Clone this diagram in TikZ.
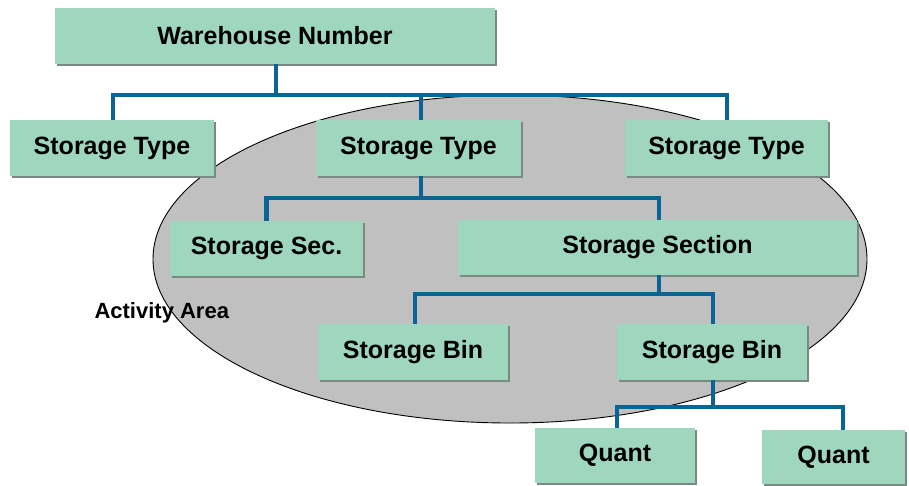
\documentclass[tikz,border=0pt]{standalone}
\usepackage{fontspec}
\setmainfont{Liberation Sans}
\definecolor{boxgreen}{HTML}{9FD6BE}
\definecolor{shadowgray}{HTML}{7A8A82}
\definecolor{connblue}{HTML}{0A6496}
\definecolor{areagray}{HTML}{C0C0C0}
\tikzset{
  box/.style={rectangle, fill=boxgreen, inner sep=0pt, minimum height=55pt,
    font=\fontsize{25}{30}\selectfont\bfseries, text=black,
    preaction={fill=shadowgray, transform canvas={shift={(1.5pt,-1.5pt)}}}},
  conn/.style={draw=connblue, line width=4.5pt},
  area/.style={fill=areagray, draw=black, line width=0.9pt},
}
\begin{document}
\begin{tikzpicture}[x=1pt, y=-1pt]
\useasboundingbox (0,0) rectangle (909,485);
\fill[white] (0,0) rectangle (909,485);
% activity area
\path[area] (510,259) ellipse [x radius=357pt, y radius=164pt];
\node[anchor=west, font=\fontsize{22}{26}\selectfont\bfseries] (aa) at (91,313) {Activity Area};
% boxes
\node[box, minimum width=440pt, minimum height=56pt] (wh) at (275,36) {Warehouse Number};
\node[box, minimum width=204pt, minimum height=56pt] (st1) at (112,148) {Storage Type};
\node[box, minimum width=205pt, minimum height=56pt] (st2) at (418.5,148) {Storage Type};
\node[box, minimum width=203pt, minimum height=56pt] (st3) at (726.5,148) {Storage Type};
\node[box, minimum width=193pt] (ss1) at (266.5,248.5) {Storage Sec.};
\node[box, minimum width=399pt] (ss2) at (657.5,247.5) {Storage Section};
\node[box, minimum width=190pt, minimum height=56pt] (sb1) at (413,352) {Storage Bin};
\node[box, minimum width=190pt, minimum height=56pt] (sb2) at (712,352) {Storage Bin};
\node[box, minimum width=160pt] (q1) at (615,455.5) {Quant};
\node[box, minimum width=143pt, minimum height=54pt] (q2) at (833.5,457) {Quant};
% connectors
\coordinate (b1) at (276,95);
\coordinate (b2) at (421,198);
\coordinate (b3) at (659,294);
\coordinate (b4) at (713,407);
\draw[conn] (b1 |- wh.south) -- (b1);
\draw[conn] ([xshift=1pt]st1.north) |- (b1) -| ([xshift=0.5pt]st3.north);
\draw[conn] (b2 |- st2.north) -- (b2 |- b1);
\draw[conn] (b2 |- st2.south) -- (b2);
\draw[conn] (ss1.north) |- (b2) -| ([xshift=1.5pt]ss2.north);
\draw[conn] (b3 |- ss2.south) -- (b3);
\draw[conn] ([xshift=2pt]sb1.north) |- (b3) -| ([xshift=1pt]sb2.north);
\draw[conn] (b4 |- sb2.south) -- (b4);
\draw[conn] ([xshift=2pt]q1.north) |- (b4) -| ([xshift=9.5pt]q2.north);
\end{tikzpicture}
\end{document}
